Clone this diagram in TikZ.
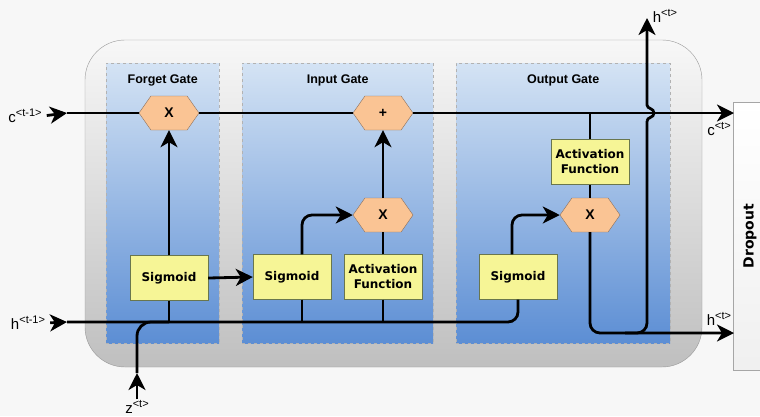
\documentclass[tikz,border=0pt]{standalone}
\usepackage{fontspec}
\setmainfont{Liberation Sans}
\newfontfamily\boxfont{DejaVu Sans}
\usetikzlibrary{shapes,arrows.meta}

\definecolor{panelTop}{RGB}{212,227,244}
\definecolor{panelBot}{RGB}{92,142,212}
\definecolor{opFill}{RGB}{250,196,148}
\definecolor{opLine}{RGB}{140,112,92}
\definecolor{boxFill}{RGB}{246,245,150}
\definecolor{boxLine}{RGB}{105,118,78}

\newcommand{\tsup}[1]{\raisebox{6pt}{\fontsize{11}{11}\selectfont #1}}

\tikzstyle{gate} = [rectangle, draw=gray!60, dashed, top color=panelTop, bottom color=panelBot, anchor=north west]
\tikzstyle{title} = [font=\fontsize{12.5}{14}\selectfont\bfseries]
\tikzstyle{op} = [signal, signal to=east and west, signal pointer angle=110, draw=opLine, fill=opFill,
minimum width=60pt, minimum height=34pt, inner sep=0pt, font=\fontsize{14}{16}\selectfont\bfseries]
\tikzstyle{block} = [rectangle, draw=boxLine, fill=boxFill, minimum width=78pt, minimum height=45pt,
text width=74pt, align=center, inner sep=1pt, font=\boxfont\fontsize{12}{15}\selectfont\bfseries]
\tikzstyle{lbl} = [font=\fontsize{15}{16}\selectfont, inner sep=1pt]
\tikzstyle{wire} = [draw, line width=2.8pt, rounded corners=10pt]
\tikzstyle{line} = [wire, -{Stealth[length=17pt,width=17pt,inset=5pt]}]

\begin{document}
\begin{tikzpicture}[x=1pt, y=-1pt]
	\useasboundingbox[fill=gray!6] (0,0) rectangle (760,416);
	% cell and gates
	\draw[gray!80, rounded corners=40pt, top color=gray!6, bottom color=gray!50] (85,40) rectangle (702,367);
	\node[gate, minimum width=113pt, minimum height=280pt] (forget) at (106,63) {};
	\node[gate, minimum width=191pt, minimum height=280pt] (input) at (242,63) {};
	\node[gate, minimum width=214pt, minimum height=280pt] (output) at (456,63) {};
	\node[title, below=8pt] at (forget.north) {Forget Gate};
	\node[title, below=8pt] at (input.north) {Input Gate};
	\node[title, below=8pt] at (output.north) {Output Gate};
	\node[draw=gray!70, top color=white, bottom color=gray!12, anchor=north west,
	minimum width=40pt, minimum height=268pt] (drop) at (733,102) {};
	\node[rotate=90, font=\boxfont\fontsize{14}{16}\selectfont\bfseries] at (750,236) {Dropout};
	
	% Place nodes
	\node[op] (fx) at (169,113) {X};
	\node[op] (ix) at (383,113) {+};
	\node[op] (imx) at (383,215) {X};
	\node[op] (omx) at (590,215) {X};
	\node[block] (fsig) at (169,278) {Sigmoid};
	\node[block] (isig) at (292,277) {Sigmoid};
	\node[block] (iact) at (383,277) {Activation Function};
	\node[block] (osig) at (518,277) {Sigmoid};
	\node[block] (oact) at (590,162) {Activation Function};
	
	% inputs and outputs
	\node[lbl] (cprev) at (25,116) {c\tsup{<t-1>}};
	\node[lbl] (hprev) at (28,323) {h\tsup{<t-1>}};
	\node[lbl] (zin) at (137,407) {z\tsup{<t>}};
	\node[lbl] (cnext) at (719,129) {c\tsup{<t>}};
	\node[lbl] (hnext) at (719,319) {h\tsup{<t>}};
	\node[lbl] (hup) at (665,16) {h\tsup{<t>}};
	\coordinate (c0) at (67,113);
	\coordinate (h0) at (67,322);
	\coordinate (z0) at (137,373);
	\coordinate (cout) at (734,113);
	\coordinate (hout) at (734,333);
	\coordinate (hsplit) at (625,333);
	\coordinate (htop) at (647,18);
	
	% cell state
	\path[line, shorten <=4pt] (cprev.east) -- (c0);
	\path[wire] (c0) -- (fx.west);
	\path[wire] (fx.east) -- (ix.west);
	\path[line] (ix.east) -- (cout);
	
	% hidden state and input
	\path[line, shorten <=4pt] (hprev.east) -- (h0);
	\path[wire] (h0) -| (osig.south);
	\path[line] (zin.north) -- (z0);
	\path[wire, rounded corners=14pt] (z0) |- (fsig.south |- h0);
	
	% forget gate
	\path[wire] (fsig.south) -- (fsig.south |- h0);
	\path[line] (fsig.north) -- (fx.south);
	
	% input gate
	\path[line] (fsig.east) -- (isig.west);
	\path[wire] ([xshift=10pt]isig.south) -- ([xshift=10pt]isig.south |- h0);
	\path[line] ([xshift=10pt]isig.north) |- (imx.west);
	\path[wire] (iact.south) -- (iact.south |- h0);
	\path[wire] (iact.north) -- (imx.south);
	\path[line] (imx.north) -- (ix.south);
	
	% output gate
	\path[line] ([xshift=-6pt]osig.north) |- (omx.west);
	\path[wire] (oact.north |- c0) -- (oact.north);
	\path[wire] (oact.south) -- (omx.north);
	\path[line] (omx.south) |- (hout);
	\path[wire] (hsplit) -| ([yshift=-8pt]htop |- c0);
	\path[line, sharp corners] ([yshift=-8pt]htop |- c0) .. controls +(0,-4) and +(0,5) .. ([xshift=7pt]htop |- c0)
	.. controls +(0,-5) and +(0,4) .. ([yshift=8pt]htop |- c0) -- (htop);
\end{tikzpicture}
\end{document}
